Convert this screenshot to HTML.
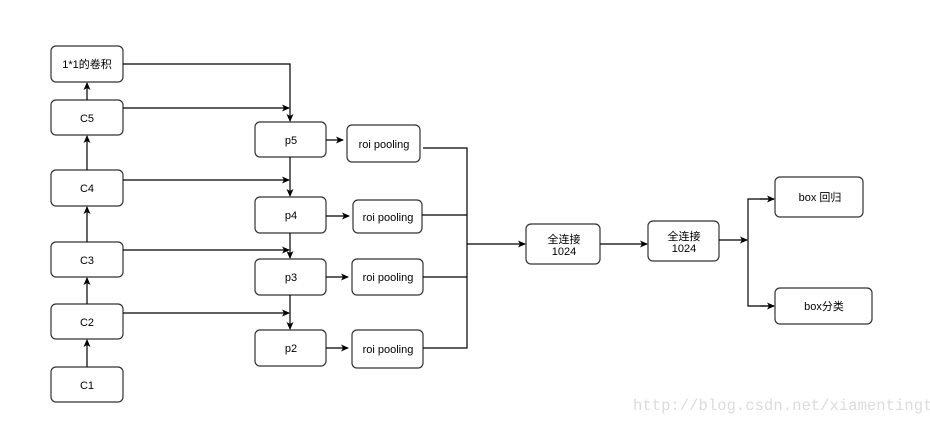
<!DOCTYPE html>
<html><head><meta charset="utf-8"><style>
html,body{margin:0;padding:0;background:#fff;}
svg{display:block;}
text{font-family:"Liberation Sans","Noto Sans CJK SC",sans-serif;font-size:11px;fill:#000;}
</style></head><body>
<svg width="930" height="445" viewBox="0 0 930 445" xmlns="http://www.w3.org/2000/svg">
<defs><marker id="a" markerWidth="8" markerHeight="8" refX="7" refY="4" orient="auto" markerUnits="userSpaceOnUse"><path d="M0,0.5 L8,4 L0,7.5 L2,4 Z" fill="#000"/></marker></defs>
<g fill="#fff" stroke="#333" stroke-width="1.2">
<rect x="51" y="46" width="72" height="36" rx="5"/>
<rect x="51" y="100" width="72" height="35" rx="5"/>
<rect x="51" y="170" width="72" height="36" rx="5"/>
<rect x="51" y="242" width="72" height="35" rx="5"/>
<rect x="51" y="304" width="72" height="35" rx="5"/>
<rect x="51" y="367" width="72" height="35" rx="5"/>
<rect x="255" y="122" width="71" height="35" rx="5"/>
<rect x="255" y="197" width="71" height="36" rx="5"/>
<rect x="255" y="259" width="71" height="36" rx="5"/>
<rect x="255" y="330" width="71" height="36" rx="5"/>
<rect x="347" y="125" width="73" height="37" rx="5"/>
<rect x="353" y="200" width="69" height="33" rx="5"/>
<rect x="352" y="259" width="71" height="36" rx="5"/>
<rect x="352" y="330" width="71" height="38" rx="5"/>
<rect x="526" y="224" width="74" height="40" rx="5"/>
<rect x="648" y="221" width="71" height="40" rx="5"/>
<rect x="775" y="177" width="88" height="40" rx="5"/>
<rect x="775" y="288" width="97" height="36" rx="5"/>
</g>
<g fill="none" stroke="#000" stroke-width="1.2">
<path d="M87 100 V83" marker-end="url(#a)"/>
<path d="M87 170 V136" marker-end="url(#a)"/>
<path d="M87 242 V207" marker-end="url(#a)"/>
<path d="M87 304 V278" marker-end="url(#a)"/>
<path d="M87 367 V340" marker-end="url(#a)"/>
<path d="M123 64 H290 V121" marker-end="url(#a)"/>
<path d="M123 108 H289" marker-end="url(#a)"/>
<path d="M123 180 H289" marker-end="url(#a)"/>
<path d="M123 250 H289" marker-end="url(#a)"/>
<path d="M123 313 H289" marker-end="url(#a)"/>
<path d="M290 157 V196" marker-end="url(#a)"/>
<path d="M290 233 V258" marker-end="url(#a)"/>
<path d="M290 295 V329" marker-end="url(#a)"/>
<path d="M326 140 H343" marker-end="url(#a)"/>
<path d="M326 216 H349" marker-end="url(#a)"/>
<path d="M326 277 H348" marker-end="url(#a)"/>
<path d="M326 348 H348" marker-end="url(#a)"/>
<path d="M423 148 H467 V348 H423"/>
<path d="M422 215 H467 M423 277 H467"/>
<path d="M467 244 H525" marker-end="url(#a)"/>
<path d="M600 244 H647" marker-end="url(#a)"/>
<path d="M719 240 H747" marker-end="url(#a)"/>
<path d="M774 199 H748 V306 H774" />
<path d="M760 199 H774" marker-end="url(#a)"/>
<path d="M760 306 H774" marker-end="url(#a)"/>
</g>
<g text-anchor="middle">
<text x="87" y="68">1*1的卷积</text>
<text x="87" y="122">C5</text>
<text x="87" y="192">C4</text>
<text x="87" y="264">C3</text>
<text x="87" y="326">C2</text>
<text x="87" y="389">C1</text>
<text x="291" y="144">p5</text>
<text x="291" y="219">p4</text>
<text x="291" y="281">p3</text>
<text x="291" y="352">p2</text>
<text x="384" y="148">roi pooling</text>
<text x="388" y="221">roi pooling</text>
<text x="388" y="281">roi pooling</text>
<text x="388" y="353">roi pooling</text>
<text x="564" y="243">全连接</text>
<text x="564" y="255">1024</text>
<text x="684" y="240">全连接</text>
<text x="684" y="252">1024</text>
<text x="820" y="201">box 回归</text>
<text x="824" y="310">box分类</text>
</g>
<text x="633" y="410" style="font-family:'Liberation Mono',monospace;font-size:15.6px;fill:#dcdcdc">http://blog.csdn.net/xiamentingtao</text>
</svg>
</body></html>
